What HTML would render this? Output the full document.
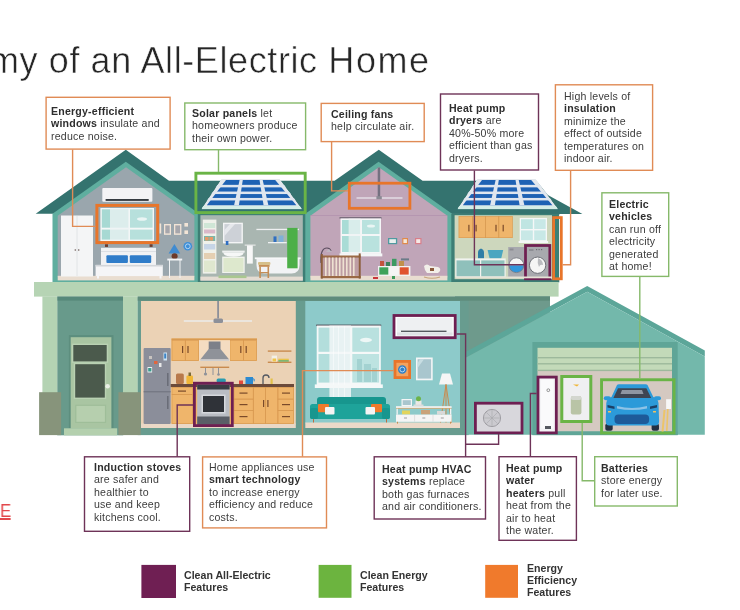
<!DOCTYPE html>
<html><head><meta charset="utf-8">
<style>
*{margin:0;padding:0;box-sizing:border-box}
html,body{width:740px;height:610px;overflow:hidden;background:#fff}
body{position:relative;font-family:"Liberation Sans",sans-serif;color:#333}
.title,.t,.lg,.red{will-change:transform}
svg{position:absolute;left:0;top:0}
.title{position:absolute;left:-11.3px;top:38.5px;font-size:36px;line-height:44px;letter-spacing:0.6px;color:#262626;-webkit-text-stroke:0.55px #fff;white-space:nowrap}
.t{position:absolute;font-size:10.6px;line-height:12.45px;letter-spacing:0.2px;color:#3c3c3c;white-space:nowrap}
.t b{color:#2e2e2e}
.lg{position:absolute;font-size:10.6px;line-height:11.8px;font-weight:bold;color:#333;white-space:nowrap}
.red{position:absolute;left:-0.3px;top:500px;font-size:19px;color:#e2474b;line-height:22px;transform:scaleX(0.88);transform-origin:0 0}
.red:after{content:"";position:absolute;left:-2px;width:14px;top:18.3px;height:1.6px;background:#e2474b}
</style></head><body>
<svg width="740" height="610" viewBox="0 0 740 610">
<g id="house">
<!-- ROOF -->
<polygon points="35.7,213.8 125.8,149.8 169,180.8 334.6,180.8 378.8,149.8 422.6,180.8 536.4,180.8 547.8,195 582.4,213.9" fill="#34736f"/>
<!-- left gable body -->
<polygon points="52.5,282 52.5,213.8 125.8,161.8 199.2,213.8 199.2,282" fill="#5fae9f"/>
<polygon points="57.7,277 57.7,215.7 126,167.2 194.4,215.7 194.4,277" fill="#9aa6ad"/>
<rect x="57.7" y="275.8" width="136.7" height="4.6" fill="#e9ddd0"/>
<!-- bathroom -->
<rect x="197.8" y="213.8" width="108.4" height="69" fill="#3d7e75"/>
<rect x="200.4" y="215.2" width="102.4" height="66" fill="#a9b6b1"/>
<rect x="200.4" y="276.6" width="102.4" height="3.8" fill="#e4dcd2"/>
<!-- nursery body -->
<polygon points="305.3,282 305.3,213.8 378.6,161.8 452,213.8 452,282" fill="#5fae9f"/>
<polygon points="310.4,277.4 310.4,215.7 378.8,167.2 447.4,215.7 447.4,277.4" fill="#c0a5b8"/>
<rect x="310.4" y="275.8" width="137" height="4.6" fill="#e9ddd0"/>
<!-- laundry -->
<rect x="451.3" y="213.9" width="108" height="68.5" fill="#3d7e75"/>
<rect x="454.6" y="215.2" width="97.4" height="64" fill="#cdd7bd"/>
<!-- solar panels -->
<!-- floor band -->
<rect x="34" y="282" width="524.6" height="14.6" fill="#b6d4b4"/>
<!-- garage behind-wall -->
<rect x="455" y="296.4" width="95" height="71" fill="#6e9a8c"/>
<!-- lower floor entry -->
<rect x="57.2" y="297" width="66" height="138.3" fill="#689a8b"/>
<rect x="57.2" y="296.4" width="65.8" height="4.2" fill="#56887a"/>
<rect x="42.4" y="296.4" width="14.8" height="96.6" fill="#b4d3b3"/>
<rect x="123" y="296.4" width="14.8" height="96.6" fill="#b4d3b3"/>
<rect x="68.9" y="335.1" width="44.6" height="93.5" fill="#5d8e7e"/>
<rect x="70.7" y="337.2" width="40.7" height="91.4" fill="#a9c5a2"/>
<rect x="71.8" y="343.6" width="36.4" height="19.2" fill="#b9d1b2"/>
<rect x="73.3" y="345" width="33.4" height="16.4" fill="#4b5a4c"/>
<rect x="73.8" y="362.8" width="32.4" height="36.2" fill="#b9d1b2"/>
<rect x="75.2" y="364.2" width="29.6" height="33.4" fill="#4b5a4c"/>
<rect x="75.2" y="404.7" width="30.9" height="18.3" fill="#9fbe99"/>
<rect x="76.4" y="405.9" width="28.5" height="15.9" fill="#b6cfae"/>
<circle cx="107.6" cy="386.3" r="2.3" fill="#e9efe5"/>
<rect x="64" y="428.3" width="53.2" height="7.1" fill="#b4d0ae"/>
<!-- kitchen + living frame -->
<rect x="137.7" y="297.3" width="331" height="137.8" fill="#689c8f"/>
<rect x="137.7" y="296.4" width="412.3" height="4.3" fill="#5e8c7b"/>
<rect x="141" y="301" width="154.8" height="123.5" fill="#ebd2b5"/>
<rect x="141" y="423.5" width="154.8" height="4.5" fill="#ead8c6"/>
<rect x="305.3" y="301" width="154.7" height="122.5" fill="#8dcaca"/>
<rect x="305.3" y="422.5" width="154.7" height="5.5" fill="#ecd9c8"/>
<rect x="39.1" y="392.2" width="22" height="42.9" fill="#87947b"/>
<rect x="118.4" y="392.2" width="22.3" height="42.9" fill="#87947b"/>
<!-- garage -->
<polygon points="466,351.7 587.2,285.9 704.8,350.6 704.8,356.5 587.2,291.8 466,357.6" fill="#5ca699"/>
<polygon points="466,434.7 466,357.6 587.2,291.8 704.8,356.5 704.8,434.7" fill="#73b8ab"/>
<rect x="532.4" y="342" width="145.3" height="93.1" fill="#5fa597"/>
<rect x="537.5" y="347.8" width="134.5" height="23.2" fill="#c3dab9"/>
<rect x="537.5" y="371" width="134.5" height="60.5" fill="#d5c9c1"/>

<clipPath id="pc1"><polygon points="221.4,179 279.7,179 302.2,209.3 201.2,209.3"/></clipPath>
<clipPath id="pc2"><polygon points="477.4,179 535.7,179 558.2,209.3 457.2,209.3"/></clipPath>
<g clip-path="url(#pc1)"><polygon points="221.4,179 279.7,179 302.2,209.3 201.2,209.3" fill="#e4e8ed"/><rect x="202" y="205.8" width="99.4" height="3.5" fill="#d5ede7"/><polygon points="226,180 275.2,180 296.4,205.2 206.8,205.2" fill="#1e62b4"/><rect x="195" y="184.85" width="110" height="2.5" fill="#dfe6ef"/><rect x="195" y="191.55" width="110" height="2.5" fill="#dfe6ef"/><rect x="195" y="197.95" width="110" height="2.5" fill="#dfe6ef"/><polygon points="239.6,180 242.8,180 238.9,205.2 234.1,205.2" fill="#dfe6ef"/><polygon points="259.5,180 262.7,180 268.4,205.2 263.6,205.2" fill="#dfe6ef"/></g>
<g clip-path="url(#pc2)"><polygon points="477.4,179 535.7,179 558.2,209.3 457.2,209.3" fill="#e4e8ed"/><rect x="458" y="205.8" width="99.4" height="3.5" fill="#d5ede7"/><polygon points="482,180 531.2,180 552.4,205.2 462.8,205.2" fill="#1e62b4"/><rect x="451" y="184.85" width="110" height="2.5" fill="#dfe6ef"/><rect x="451" y="191.55" width="110" height="2.5" fill="#dfe6ef"/><rect x="451" y="197.95" width="110" height="2.5" fill="#dfe6ef"/><polygon points="495.6,180 498.8,180 494.9,205.2 490.1,205.2" fill="#dfe6ef"/><polygon points="515.5,180 518.7,180 524.4,205.2 519.6,205.2" fill="#dfe6ef"/></g>

<!-- bedroom details -->
<rect x="61" y="215.5" width="32" height="61" fill="#f4f5f6"/>
<line x1="77" y1="216" x2="77" y2="276" stroke="#dde0e3" stroke-width="0.8"/>
<circle cx="75.3" cy="250" r="0.8" fill="#6b5a55"/><circle cx="78.7" cy="250" r="0.8" fill="#6b5a55"/>
<rect x="102.3" y="188" width="50.1" height="13.7" rx="1" fill="#f3f3f5"/>
<rect x="105.6" y="199" width="43.1" height="1.9" fill="#353a40"/>
<rect x="100.4" y="208" width="53.6" height="33" fill="#f4f7f7"/>
<rect x="101.8" y="209.3" width="26.5" height="18.4" fill="#a7d9d3"/>
<rect x="130" y="209.3" width="22.6" height="18.4" fill="#b7e0dc"/>
<rect x="101.8" y="229.6" width="26.5" height="10" fill="#a7d9d3"/>
<rect x="130" y="229.6" width="22.6" height="10" fill="#b7e0dc"/>
<rect x="110" y="208.5" width="19.4" height="32" fill="#eef3f4" opacity="0.75"/>
<ellipse cx="142" cy="219" rx="5" ry="1.8" fill="#eaf5f4"/>
<rect x="96.9" y="205.4" width="60.8" height="37.2" fill="none" stroke="#e8752a" stroke-width="3"/>
<rect x="105" y="244.3" width="3" height="2.6" fill="#6e3b2c"/><rect x="149.6" y="244.3" width="3" height="2.6" fill="#6e3b2c"/>
<rect x="101" y="247.8" width="55" height="17.2" fill="#f1f2f4"/>
<rect x="101" y="251" width="55" height="1" fill="#dcdfe3"/>
<rect x="106.4" y="255.2" width="21.5" height="7.8" rx="1" fill="#2f7cc9"/>
<rect x="129.8" y="255.2" width="21.4" height="7.8" rx="1" fill="#2f7cc9"/>
<rect x="95.6" y="264.9" width="67.2" height="11.2" fill="#f5f5f7"/>
<rect x="95.6" y="264.9" width="67.2" height="1.6" fill="#d3d6da"/>
<rect x="97" y="276" width="2" height="2.5" fill="#f5f5f7"/><rect x="159.5" y="276" width="2" height="2.5" fill="#f5f5f7"/>
<rect x="164" y="224" width="7" height="10.8" fill="#f2e4d6"/><rect x="165.3" y="225.4" width="4.4" height="8" fill="#a6a6ac"/>
<rect x="174" y="224" width="7.4" height="10.8" fill="#f2e4d6"/><rect x="175.3" y="225.4" width="4.8" height="8" fill="#a6a6ac"/>
<rect x="184.4" y="223" width="3.6" height="3.6" fill="#f2e4d6"/><rect x="184.4" y="230.4" width="3.6" height="3.6" fill="#f2e4d6"/>
<rect x="159.6" y="223.5" width="1.6" height="10" fill="#f2e4d6"/>
<circle cx="187.8" cy="246.3" r="4.3" fill="#3d8fd8"/><circle cx="187.8" cy="246.3" r="2.4" fill="none" stroke="#cfe4f6" stroke-width="0.8"/>
<polygon points="174.4,244 180.2,253.4 168.6,253.4" fill="#3f8bd1"/>
<circle cx="174.6" cy="256.2" r="3" fill="#6c3a2b"/>
<rect x="167.3" y="258.6" width="14.9" height="1.9" fill="#f2f3f5"/>
<rect x="169" y="260" width="1" height="18" fill="#f2f3f5"/><rect x="179.5" y="260" width="1" height="18" fill="#f2f3f5"/>

<!-- bathroom details -->
<rect x="202.8" y="219.6" width="13.6" height="54" fill="#eff1ea"/>
<rect x="204" y="223" width="11.2" height="5" fill="#cfe6d6"/>
<rect x="204" y="229.5" width="11.2" height="4" fill="#d9b9c9"/>
<rect x="204" y="236" width="11.2" height="5" fill="#7fb5a6"/>
<rect x="205" y="237" width="3.5" height="3.5" fill="#e79a68"/><rect x="209.5" y="237" width="3.5" height="3.5" fill="#e79a68"/>
<rect x="204" y="244" width="11.2" height="5.5" fill="#c6d5e6"/>
<rect x="204" y="253" width="11.2" height="6" fill="#e4cfb2"/>
<rect x="204" y="260.5" width="11.2" height="11.5" fill="#dfe7cf"/>
<rect x="223" y="222.7" width="19.9" height="20.7" fill="#f3f4f5"/>
<rect x="224.4" y="224.1" width="17.1" height="17.9" fill="#cdd1d7"/>
<polygon points="230,224.1 235,224.1 224.4,236 224.4,230" fill="#e6e8ec"/>
<rect x="225.8" y="241" width="2.6" height="4" fill="#2f6fc2"/>
<rect x="222.2" y="250.6" width="22.5" height="2" fill="#eef0f0"/>
<path d="M223,252.5 h21 q-1,4.2 -10.5,4.2 q-9.5,0 -10.5,-4.2z" fill="#f6f7f7"/>
<rect x="222.2" y="256.6" width="22.5" height="16.4" fill="#f1f3ee"/>
<rect x="223.4" y="258" width="20.1" height="14" fill="#dde8cd"/>
<rect x="244.7" y="244.6" width="10.9" height="1" fill="#f0f0f0"/>
<rect x="247" y="245.4" width="5.8" height="18.2" fill="#f7f7f7"/>
<rect x="256.4" y="228.8" width="42.6" height="1.3" fill="#eef0f1"/>
<rect x="268" y="242" width="18.7" height="1.3" fill="#eef0f1"/>
<rect x="273.5" y="236.4" width="3" height="5.6" fill="#2f6fc2"/>
<rect x="278.5" y="235.5" width="5" height="6.5" fill="#7fb0d8"/>
<rect x="254.8" y="257.4" width="45.9" height="1.8" fill="#f7f8f9"/>
<path d="M256.5,259 h43 v6 q0,8.5 -8,8.5 h-27 q-8,0 -8,-8.5z" fill="#f2f3f5"/>
<rect x="287.2" y="227.9" width="10.4" height="40.4" fill="#4caf48"/>
<rect x="258" y="262" width="12.4" height="3" rx="1" fill="#d6bf8a"/>
<rect x="258.8" y="265" width="10.8" height="1.8" fill="#c48d55"/>
<rect x="259.3" y="266.5" width="1.6" height="11.5" fill="#c48d55"/><rect x="267.5" y="266.5" width="1.6" height="11.5" fill="#c48d55"/>
<rect x="259.3" y="272" width="9.5" height="1.2" fill="#c48d55"/>
<rect x="218.5" y="275.5" width="28" height="2.6" fill="#a9c78f"/>
<!-- solar green box -->
<rect x="195.9" y="173.2" width="109.3" height="39.4" fill="none" stroke="#6ab446" stroke-width="2.9"/>
<!-- nursery details -->
<rect x="310.4" y="215" width="137" height="0.6" fill="#ae8cab"/>
<rect x="339.5" y="217.2" width="42" height="1.4" fill="#6a6270"/>
<rect x="340.5" y="218.4" width="40.5" height="35.5" fill="#f4f6f7"/>
<rect x="342" y="220" width="18" height="14" fill="#a9dcd6"/>
<rect x="362" y="220" width="17.5" height="14" fill="#b9e2de"/>
<rect x="342" y="236" width="18" height="16" fill="#a9dcd6"/>
<rect x="362" y="236" width="17.5" height="16" fill="#b9e2de"/>
<rect x="348.6" y="218.6" width="12" height="35" fill="#eef3f4" opacity="0.7"/>
<ellipse cx="371" cy="226" rx="4" ry="1.5" fill="#eaf5f4"/>
<rect x="339.5" y="253.4" width="42.8" height="3" fill="#f4f6f7"/>
<path d="M321,263 q-1,-15 6,-15 q3,0 4,3" fill="none" stroke="#5d4e60" stroke-width="1.2"/>
<path d="M326,252 l3,-3 l3,3z" fill="#bfb7c2"/>
<rect x="320.8" y="255.5" width="39.9" height="2.2" fill="#9b6a45"/>
<rect x="320.8" y="276" width="39.9" height="2.2" fill="#9b6a45"/>
<rect x="320.8" y="254" width="2" height="24.6" fill="#8c5e3c"/><rect x="358.7" y="253.4" width="2" height="25.2" fill="#8c5e3c"/>
<rect x="322.8" y="257.7" width="36" height="18.3" fill="#b9917f" opacity="0.35"/>
<g fill="#efe2d2">
<rect x="325" y="257.5" width="1.6" height="18.5"/><rect x="328.5" y="257.5" width="1.6" height="18.5"/><rect x="332" y="257.5" width="1.6" height="18.5"/><rect x="335.5" y="257.5" width="1.6" height="18.5"/><rect x="339" y="257.5" width="1.6" height="18.5"/><rect x="342.5" y="257.5" width="1.6" height="18.5"/><rect x="346" y="257.5" width="1.6" height="18.5"/><rect x="349.5" y="257.5" width="1.6" height="18.5"/><rect x="353" y="257.5" width="1.6" height="18.5"/></g>
<rect x="388" y="238" width="9.2" height="6.2" fill="#4f9aa0"/><rect x="389.3" y="239.2" width="6.6" height="3.8" fill="#e9f1ee"/>
<rect x="402.3" y="238" width="5.7" height="6.2" fill="#e08a4a"/><rect x="403.4" y="239.2" width="3.5" height="3.8" fill="#f6e9d8"/>
<rect x="415" y="238" width="6.5" height="6.2" fill="#d87f8a"/><rect x="416.2" y="239.2" width="4.1" height="3.8" fill="#f6e9e6"/>
<rect x="378" y="266" width="32.4" height="10" fill="#f2f2f2"/>
<rect x="379.3" y="267.3" width="9" height="7.3" fill="#3fa35a"/>
<rect x="389.5" y="267.3" width="9" height="7.3" fill="#f5f5f5"/>
<rect x="399.7" y="267.3" width="9" height="7.3" fill="#e0532f"/>
<rect x="380" y="261" width="4" height="5" fill="#c3523d"/><rect x="386" y="262" width="4" height="4" fill="#3c7f5a"/>
<rect x="392" y="258.8" width="4.5" height="7.2" fill="#3c9a63"/><rect x="399" y="261" width="5" height="5" fill="#c1904b"/>
<rect x="401" y="258.4" width="8" height="2" fill="#6b7b88"/>
<rect x="373" y="277" width="5" height="2" fill="#c9353a"/><rect x="392" y="276" width="3" height="3" fill="#3e9a5b"/>
<path d="M424,266 q3,-3 6,0 l8,1 q3,1 2,4 l-2,2 h-11 l-2,-3z" fill="#f2efe9"/>
<rect x="430" y="268" width="4" height="3" fill="#8b5a3c"/>
<path d="M424,277 q8,2.5 16,0" fill="none" stroke="#c7a57a" stroke-width="1.2"/>
<!-- ceiling fan -->
<rect x="377.7" y="167.5" width="2.5" height="29.5" fill="#757080"/>
<rect x="356.5" y="197.4" width="46" height="1.2" fill="#ece9ee"/>
<rect x="376.4" y="196.2" width="5.4" height="3" fill="#8b8993"/>
<rect x="349.3" y="183.2" width="60.6" height="25.1" fill="none" stroke="#e8752a" stroke-width="2.8"/>
<!-- laundry details -->
<rect x="458.7" y="216.2" width="53.9" height="21.8" fill="#efb56b"/>
<g stroke="#d79a52" stroke-width="0.6" fill="none"><rect x="459" y="216.5" width="13.4" height="21.2"/><rect x="472.4" y="216.5" width="13.2" height="21.2"/><rect x="485.6" y="216.5" width="13.2" height="21.2"/><rect x="498.8" y="216.5" width="13.5" height="21.2"/></g>
<g fill="#7a4a2a"><rect x="468.3" y="224.8" width="1.2" height="6.6"/><rect x="475.5" y="224.8" width="1.2" height="6.6"/><rect x="495.4" y="224.8" width="1.2" height="6.6"/><rect x="502.6" y="224.8" width="1.2" height="6.6"/></g>
<rect x="519.7" y="217.9" width="27.3" height="23.6" fill="#f5f7f7"/>
<rect x="521" y="219.2" width="11.8" height="9.8" fill="#bfe5e2"/><rect x="534.2" y="219.2" width="11.5" height="9.8" fill="#c8e8e6"/>
<rect x="521" y="230.4" width="11.8" height="9.8" fill="#c8e8e6"/><rect x="534.2" y="230.4" width="11.5" height="9.8" fill="#c8e8e6"/>
<rect x="518.6" y="241" width="29.5" height="2" fill="#f5f7f7"/>
<path d="M478,258.6 v-6 q0,-3 3,-4 q3,1 3,4 v6z" fill="#2f7ea6"/>
<path d="M487.6,250 h15.6 l-2,8.6 h-11.6z" fill="#4aa6c0"/>
<rect x="455.4" y="258.4" width="50.3" height="19.1" fill="#f1f3ef"/>
<rect x="456.5" y="260.4" width="23.5" height="16" fill="#8fc0bb"/><rect x="481.2" y="260.4" width="23.3" height="16" fill="#8fc0bb"/>
<rect x="508.2" y="247" width="15.8" height="30.5" fill="#a8a9ae"/>
<rect x="509.5" y="248.5" width="4" height="2" fill="#8d8e94"/>
<circle cx="516.4" cy="265.2" r="7.4" fill="#f5f5f5"/>
<path d="M509,265.2 a7.4,7.4 0 0 0 14.8,0z" fill="#3296dc"/>
<circle cx="516.4" cy="265.2" r="7.4" fill="none" stroke="#6f7178" stroke-width="0.8"/>
<rect x="526.7" y="246.7" width="22" height="31" fill="#a8a9ae"/>
<rect x="529" y="249" width="4.5" height="2" fill="#8d8e94"/><rect x="536" y="249" width="1.2" height="1.2" fill="#6d6e74"/><rect x="538.5" y="249" width="1.2" height="1.2" fill="#6d6e74"/><rect x="541" y="249" width="1.2" height="1.2" fill="#6d6e74"/>
<circle cx="537.6" cy="265.2" r="8.2" fill="#f5f5f5" stroke="#6f7178" stroke-width="1"/>
<path d="M538,258 q5,2 5,7 q-3,-1 -4,2 q-2,-4 -1,-9z" fill="#bbbcc0"/>
<rect x="525.5" y="245.5" width="24.3" height="33.3" fill="none" stroke="#6e1f52" stroke-width="2.8"/>
<rect x="456" y="276.5" width="96" height="1.8" fill="#e6e2d6"/>
<rect x="556" y="215" width="3" height="65" fill="#3b8075"/>
<rect x="559" y="215" width="2.5" height="65" fill="#f3f5f4"/>
<rect x="553.6" y="217.6" width="7.7" height="61.2" fill="none" stroke="#e8752a" stroke-width="2.8"/>
<!-- right panel cells & left panel cells added later -->

<!-- kitchen details -->
<rect x="217.2" y="301" width="1.8" height="17.5" fill="#8d9099"/>
<rect x="183.8" y="320.2" width="68.2" height="1.6" fill="#eceae7"/>
<rect x="213.5" y="318.5" width="9.5" height="4.5" rx="1.5" fill="#8d9099"/>
<rect x="171.5" y="338.5" width="85.5" height="22.5" fill="#efb56b"/>
<rect x="171.5" y="338.5" width="85.5" height="1.6" fill="#d99a52"/>
<g stroke="#d99a52" stroke-width="0.7" fill="none"><rect x="172" y="340.2" width="13.3" height="20.4"/><rect x="185.3" y="340.2" width="13.3" height="20.4"/><rect x="230" y="340.2" width="13.4" height="20.4"/><rect x="243.4" y="340.2" width="13.2" height="20.4"/></g>
<g fill="#7a4a2a"><rect x="182" y="346" width="1.2" height="7"/><rect x="187.4" y="346" width="1.2" height="7"/><rect x="240.2" y="346" width="1.2" height="7"/><rect x="245.6" y="346" width="1.2" height="7"/></g>
<rect x="199" y="340.2" width="31" height="20.8" fill="#f4dcc1"/>
<rect x="208.7" y="341.5" width="11.8" height="8" fill="#7d8089"/>
<polygon points="208.7,349 220.5,349 229.2,359.5 200.3,359.5" fill="#8f9299"/>
<rect x="200.3" y="359.3" width="28.9" height="1.6" fill="#c9cbd0"/>
<rect x="200.3" y="366.6" width="28.9" height="1.4" fill="#c98b4f"/>
<g fill="#8f9299"><rect x="205" y="368" width="1" height="5"/><circle cx="205.5" cy="374" r="1.6"/><rect x="212.5" y="368" width="1" height="7"/><rect x="218" y="368" width="1" height="6"/><circle cx="218.5" cy="374.5" r="1.3"/></g>
<rect x="267.8" y="350.4" width="23.6" height="1.4" fill="#c98b4f"/>
<rect x="267.8" y="361.6" width="23.6" height="1.4" fill="#c98b4f"/>
<rect x="271.7" y="355.6" width="5.3" height="6" fill="#f3efe6"/><rect x="272.5" y="358.5" width="3.7" height="3" fill="#f0c44a"/>
<rect x="278.3" y="358.7" width="10.5" height="1.5" fill="#e8c34b"/><rect x="278.3" y="360.2" width="10.5" height="1.4" fill="#67b065"/>
<!-- fridge -->
<rect x="143.6" y="348" width="27.1" height="76" rx="1" fill="#8b8e9a"/>
<rect x="143.6" y="391.3" width="27.1" height="1" fill="#6e717c"/>
<rect x="167.3" y="373" width="1.1" height="13" fill="#5d606a"/><rect x="167.3" y="396" width="1.1" height="13" fill="#5d606a"/>
<rect x="163.5" y="352.5" width="3.5" height="8" fill="#cfe3f1"/><rect x="164.2" y="353.5" width="2" height="5" fill="#3d84c6"/>
<rect x="149" y="356" width="3" height="3" fill="#c9c4c0"/>
<rect x="154" y="361" width="3.5" height="3" fill="#e0663f"/><rect x="159" y="363" width="2.5" height="4" fill="#e8e8e8"/>
<rect x="147.5" y="367" width="4.6" height="5.5" fill="#eef3f6"/><rect x="148.2" y="368" width="3.2" height="3.5" fill="#3a9a8c"/>
<!-- counter -->
<rect x="170.7" y="384" width="123.3" height="3.2" fill="#6b4a3a"/>
<rect x="171.5" y="387.2" width="122.5" height="36.8" fill="#efb56b"/>
<g stroke="#d99a52" stroke-width="0.7" fill="none"><rect x="172" y="387.6" width="20.6" height="7"/><rect x="172" y="394.6" width="20.6" height="29"/>
<rect x="234" y="387.6" width="19.3" height="11.5"/><rect x="234" y="399.1" width="19.3" height="11.5"/><rect x="234" y="410.6" width="19.3" height="13"/>
<rect x="253.3" y="387.6" width="12.3" height="36"/><rect x="265.6" y="387.6" width="12.3" height="36"/>
<rect x="277.9" y="387.6" width="15.6" height="11.5"/><rect x="277.9" y="399.1" width="15.6" height="11.5"/><rect x="277.9" y="410.6" width="15.6" height="13"/></g>
<g fill="#7a4a2a"><rect x="178" y="390.5" width="8" height="1.2"/><rect x="239.5" y="392.5" width="8" height="1.2"/><rect x="239.5" y="404" width="8" height="1.2"/><rect x="239.5" y="416" width="8" height="1.2"/>
<rect x="263" y="400" width="1.2" height="7"/><rect x="267.3" y="400" width="1.2" height="7"/><rect x="282" y="392.5" width="8" height="1.2"/><rect x="282" y="404" width="8" height="1.2"/><rect x="282" y="416" width="8" height="1.2"/></g>
<rect x="176" y="373.4" width="7.8" height="10.6" rx="1.5" fill="#b8794b"/>
<rect x="186.4" y="375.5" width="6.6" height="8.5" rx="1.2" fill="#f0b637"/><rect x="188.5" y="372.5" width="2.5" height="3.5" fill="#7a6a3a"/>
<rect x="216.6" y="378.4" width="9.2" height="4" rx="1.5" fill="#2b9bb0"/>
<rect x="239" y="380.5" width="4" height="3.5" fill="#e34b3b"/>
<path d="M245.5,384 v-7 h7.5 v7z M253,378 q3,1 1,4" fill="#2d8ad0"/>
<path d="M263,384 v-6 q0,-3 3,-3 q3,0 3,3" fill="none" stroke="#555a63" stroke-width="1.3"/>
<rect x="270.5" y="378.5" width="2.2" height="5.5" fill="#e3c14a"/>
<!-- stove -->
<rect x="197.2" y="384.5" width="32.4" height="40.4" fill="#b9bcc3"/>
<rect x="197.2" y="384.5" width="32.4" height="5" fill="#3a3d45"/>
<rect x="201.5" y="394.5" width="24" height="19" fill="#d6d8dd"/>
<rect x="203" y="396" width="21" height="16" fill="#2f3238"/>
<rect x="197.2" y="416.5" width="32.4" height="8.4" fill="#5a5e67"/>
<rect x="194.4" y="383.2" width="37.9" height="42.4" fill="none" stroke="#6e1f52" stroke-width="2.8"/>
<!-- living room -->
<rect x="394" y="315.5" width="61.2" height="22.2" fill="#fff" stroke="#6e1f52" stroke-width="2.8"/>
<rect x="397" y="317.8" width="55.5" height="17.6" rx="1" fill="#eef0f2"/>
<rect x="397" y="332.5" width="55.5" height="2.9" fill="#dfe2e6"/>
<rect x="401" y="330.6" width="45.5" height="1.4" fill="#55585f"/>
<rect x="316.2" y="324.6" width="65" height="1.5" fill="#4a4650"/>
<rect x="316.7" y="325.5" width="64.1" height="59.5" fill="#f5f8f8"/>
<rect x="318.5" y="327.6" width="31.4" height="24.2" fill="#b3dedc"/><rect x="352.3" y="327.6" width="26.8" height="24.2" fill="#b9e1df"/>
<rect x="318.5" y="354" width="31.4" height="28.6" fill="#b3dedc"/><rect x="352.3" y="354" width="26.8" height="28.6" fill="#bde3e1"/>
<ellipse cx="366" cy="340" rx="6" ry="2.2" fill="#eef7f6"/>
<g fill="#a3d2d1"><rect x="357" y="359" width="5" height="23"/><rect x="364" y="364" width="7" height="18"/><rect x="372" y="368" width="5" height="14"/></g>
<rect x="329.4" y="325.5" width="21.6" height="72.5" fill="#f4f7f8" opacity="0.82"/>
<g fill="#ffffff" opacity="0.5"><rect x="333" y="326" width="1" height="72"/><rect x="338" y="326" width="1" height="72"/><rect x="344" y="326" width="1" height="72"/></g>
<rect x="314.8" y="384.4" width="68" height="3.6" fill="#f5f8f8"/>
<rect x="395" y="361.4" width="14.6" height="16.2" fill="#f3a25e"/>
<circle cx="402.3" cy="369.5" r="4.3" fill="#2f7fc8"/><circle cx="402.3" cy="369.5" r="2.4" fill="none" stroke="#d6e8f7" stroke-width="0.8"/>
<rect x="395" y="361.4" width="14.6" height="16.2" fill="none" stroke="#e8752a" stroke-width="2.8"/>
<rect x="416" y="357.5" width="16.7" height="22.8" fill="#f3f5f6"/>
<rect x="417.6" y="359.2" width="13.5" height="19.4" fill="#a9c6ce"/>
<polygon points="420,359.2 424,359.2 417.6,368 417.6,363" fill="#c7dde2"/>
<path d="M439,384.5 l3,-11 h8 l3,11z" fill="#f6f6f6"/>
<g stroke="#c98b4f" stroke-width="1" fill="none"><path d="M446,384.5 l-5.5,38"/><path d="M446,384.5 l5.5,38"/><path d="M446,384.5 v38"/></g>
<rect x="396" y="406.2" width="55.6" height="1.8" fill="#f3f3f3"/>
<rect x="396" y="407.9" width="55.6" height="0.8" fill="#d9a76b"/>
<rect x="396.5" y="408.7" width="1.3" height="6" fill="#f3f3f3"/><rect x="450" y="408.7" width="1.3" height="6" fill="#f3f3f3"/>
<rect x="402" y="410.5" width="8" height="4" fill="#e2d45b"/><rect x="421" y="410" width="9" height="4.5" fill="#c9a27a"/><rect x="437" y="411" width="8" height="3.5" fill="#d9d9d9"/>
<rect x="396" y="414.6" width="55.6" height="7.2" fill="#f5f5f5"/>
<g stroke="#d0d0d0" stroke-width="0.6"><line x1="414.6" y1="414.8" x2="414.6" y2="421.6"/><line x1="433" y1="414.8" x2="433" y2="421.6"/></g>
<g fill="#888"><rect x="404" y="417.6" width="3" height="0.8"/><rect x="422.3" y="417.6" width="3" height="0.8"/><rect x="440.8" y="417.6" width="3" height="0.8"/></g>
<rect x="397" y="421.8" width="1" height="1.8" fill="#c98b4f"/><rect x="450" y="421.8" width="1" height="1.8" fill="#c98b4f"/>
<rect x="401.5" y="399" width="10.5" height="7.2" fill="#f3f5f6"/><rect x="402.7" y="400.2" width="8.1" height="4.8" fill="#a9c6ce"/>
<rect x="415.5" y="400.5" width="6" height="5.7" fill="#eae8e4"/><circle cx="418.5" cy="398.8" r="2.5" fill="#6db34a"/>
<rect x="413.5" y="404.5" width="10" height="1.7" fill="#dcdcdc"/>
<!-- sofa -->
<rect x="317" y="397" width="69" height="13" rx="3" fill="#17968e"/>
<rect x="310" y="404" width="80" height="15" rx="2.5" fill="#1ea39a"/>
<rect x="310" y="408" width="8" height="11" rx="2" fill="#17968e"/><rect x="382" y="408" width="8" height="11" rx="2" fill="#17968e"/>
<rect x="318" y="404" width="11" height="8.3" rx="1" fill="#ef7a2c"/><rect x="371" y="404" width="11" height="8.3" rx="1" fill="#ef7a2c"/>
<rect x="325" y="407" width="9.5" height="7.5" rx="1" fill="#f4f4f4"/><rect x="365.5" y="407" width="9.5" height="7.5" rx="1" fill="#f4f4f4"/>
<rect x="313" y="419" width="1" height="3.5" fill="#c06b3f"/><rect x="386" y="419" width="1" height="3.5" fill="#c06b3f"/>
<!-- entry wall details -->
<!-- garage details -->
<g fill="#9db99c"><rect x="537.5" y="357" width="134.5" height="1.4"/><rect x="537.5" y="363.1" width="134.5" height="1.4"/><rect x="537.5" y="369.7" width="134.5" height="1.4"/></g>
<rect x="532.4" y="431.5" width="145.3" height="3.6" fill="#5fa597"/>
<!-- outdoor HVAC unit -->
<rect x="475.4" y="403.2" width="46.6" height="29.7" fill="#d8d7dc" stroke="#6e1f52" stroke-width="2.8"/>
<circle cx="492" cy="418" r="8.6" fill="#cbcacf" stroke="#9a999e" stroke-width="0.9"/>
<g stroke="#a8a7ac" stroke-width="0.6"><line x1="484" y1="418" x2="500" y2="418"/><line x1="492" y1="410" x2="492" y2="426"/><line x1="486.3" y1="412.3" x2="497.7" y2="423.7"/><line x1="497.7" y1="412.3" x2="486.3" y2="423.7"/></g>
<!-- water heater -->
<rect x="538" y="377.1" width="18.3" height="55.8" fill="#f3f3f5" stroke="#6e1f52" stroke-width="2.8"/>
<rect x="541" y="379.5" width="12.5" height="49" rx="1.5" fill="#fafafb"/>
<circle cx="548.3" cy="390.2" r="1.4" fill="none" stroke="#555" stroke-width="0.6"/>
<rect x="545" y="426" width="6" height="3" fill="#55585f"/>
<!-- battery -->
<rect x="561.8" y="376.5" width="29" height="45" fill="#efeff1" stroke="#6ab446" stroke-width="3"/>
<rect x="570.8" y="396" width="10.6" height="18.5" rx="2" fill="#b9c4a6"/>
<rect x="570.8" y="396" width="10.6" height="4" rx="2" fill="#d3d6cf"/>
<path d="M573,384.5 h6 l-2,2 z" fill="#f0b637"/>
<!-- car -->
<path d="M661.5,432 l2,-22 h2 l-2,22z" fill="#ecc46a"/>
<path d="M666,431 l1,-22 h1.6 l-1,22z" fill="#ecc46a"/>
<rect x="666.1" y="399.2" width="4.9" height="9.8" fill="#f7f7f7"/>
<rect x="605.3" y="423.5" width="7.4" height="7.3" rx="2" fill="#233041"/><rect x="651.6" y="423.5" width="7.4" height="7.3" rx="2" fill="#233041"/>
<path d="M617,385 q0.5,-0.8 2,-0.8 h26.5 q1.5,0 2,0.8 l5.8,12 q4.5,0.8 5.2,6 l0.6,18 q0,4.5 -3.5,4.5 h-46.4 q-3.5,0 -3.5,-4.5 l0.6,-18 q0.7,-5.2 5.2,-6z" fill="#2c9ad9"/>
<path d="M613.4,398 l4.6,-9.8 h28.4 l4.8,9.8z" fill="#3e4552"/>
<path d="M622,390 h20 l1.5,4 h-23z" fill="#8e96a2"/>
<rect x="603.8" y="396.2" width="7" height="4" rx="2" fill="#2c9ad9"/><rect x="654" y="396.2" width="7" height="4" rx="2" fill="#2c9ad9"/>
<path d="M607.5,405 l7,1.5 v2.5 l-7,-1.5z" fill="#1c3f66"/><path d="M657,405 l-7,1.5 v2.5 l7,-1.5z" fill="#1c3f66"/>
<path d="M617,406 q15,4 30,0 v2.5 q-15,3 -30,0z" fill="#8ec3e6"/>
<rect x="614.5" y="414.4" width="34.6" height="9.7" rx="4" fill="#1d5a99"/>
<rect x="608" y="411" width="3" height="1.5" fill="#f0c060"/><rect x="653" y="411" width="3" height="1.5" fill="#f0c060"/>
<rect x="601.55" y="379.75" width="72.5" height="53.3" fill="none" stroke="#6ab446" stroke-width="2.9"/>

<!-- connector lines -->
<g fill="none" stroke-width="1.4">
<path d="M72.6,149.5 V226.4 H95.5" stroke="#e08b55"/>
<path d="M218.5,149.8 V172" stroke="#86b96a"/>
<path d="M331.6,141.8 V190.9 H348" stroke="#e08b55"/>
<path d="M474.4,170.5 V264.7 H524.2" stroke="#6e3358"/>
<path d="M570.6,170.3 V264.7 H562.6" stroke="#e08b55"/>
<path d="M639.8,276.8 V378" stroke="#86b96a"/>
<path d="M193,405 H177.2 V456.8" stroke="#6e3358"/>
<path d="M393.6,370.6 H302.5 V456.8" stroke="#e08b55"/>
<path d="M456.6,334 H465.6 V457" stroke="#6e3358"/>
<path d="M465.6,444.3 H498.6 V434" stroke="#6e3358"/>
<path d="M536.6,393.5 H530.4 V457" stroke="#6e3358"/>
<path d="M582.2,423 V480.8 H595" stroke="#86b96a"/>
</g>

</g>
<g id="callouts" fill="none" stroke-width="1.4">
 <!-- boxes -->
 <rect x="46.1" y="97.3" width="124" height="51.8" fill="#fff" stroke="#e08b55"/>
 <rect x="184.8" y="103" width="120.8" height="46.7" fill="#fff" stroke="#86b96a"/>
 <rect x="321.2" y="103.4" width="103" height="38.2" fill="#fff" stroke="#e08b55"/>
 <rect x="440.5" y="94" width="98" height="76" fill="#fff" stroke="#6e3358"/>
 <rect x="555.4" y="84.8" width="97.2" height="85.5" fill="#fff" stroke="#e08b55"/>
 <rect x="601.9" y="192.8" width="66.8" height="83.6" fill="#fff" stroke="#86b96a"/>
 <rect x="84.5" y="456.8" width="105.2" height="74.5" fill="#fff" stroke="#6e3358"/>
 <rect x="202.6" y="456.9" width="123.9" height="71" fill="#fff" stroke="#e08b55"/>
 <rect x="374.2" y="456.8" width="111.3" height="62.2" fill="#fff" stroke="#6e3358"/>
 <rect x="499" y="456.7" width="77.4" height="83.6" fill="#fff" stroke="#6e3358"/>
 <rect x="594.7" y="456.7" width="82.6" height="49.3" fill="#fff" stroke="#86b96a"/>
</g>
<g id="legend">
 <rect x="141.4" y="564.9" width="34.6" height="33.1" fill="#6f1f53"/>
 <rect x="318.6" y="564.9" width="32.9" height="32.9" fill="#6cb43f"/>
 <rect x="485.2" y="564.9" width="32.8" height="32.9" fill="#f07a2c"/>
</g>
</svg>
<div class="title">my of an All-Electric <span style="letter-spacing:1.6px">Home</span></div>

<div class="t" style="left:51.4px;top:104.8px"><b>Energy-efficient</b><br><b>windows</b> insulate and<br>reduce noise.</div>
<div class="t" style="left:191.5px;top:107.2px"><b>Solar panels</b> let<br>homeowners produce<br>their own power.</div>
<div class="t" style="left:331.4px;top:108.2px"><b>Ceiling fans</b><br>help circulate air.</div>
<div class="t" style="left:449px;top:101.8px"><b>Heat pump</b><br><b>dryers</b> are<br>40%-50% more<br>efficient than gas<br>dryers.</div>
<div class="t" style="left:563.7px;top:89.9px">High levels of<br><b>insulation</b><br>minimize the<br>effect of outside<br>temperatures on<br>indoor air.</div>
<div class="t" style="left:609.2px;top:197.7px"><b>Electric</b><br><b>vehicles</b><br>can run off<br>electricity<br>generated<br>at home!</div>
<div class="t" style="left:93.6px;top:461.3px"><b>Induction stoves</b><br>are safer and<br>healthier to<br>use and keep<br>kitchens cool.</div>
<div class="t" style="left:209.1px;top:461.3px">Home appliances use<br><b>smart technology</b><br>to increase energy<br>efficiency and reduce<br>costs.</div>
<div class="t" style="left:382px;top:462.5px"><b>Heat pump HVAC</b><br><b>systems</b> replace<br>both gas furnaces<br>and air conditioners.</div>
<div class="t" style="left:505.9px;top:461.5px"><b>Heat pump</b><br><b>water</b><br><b>heaters</b> pull<br>heat from the<br>air to heat<br>the water.</div>
<div class="t" style="left:601.2px;top:461.5px"><b>Batteries</b><br>store energy<br>for later use.</div>

<div class="lg" style="left:183.8px;top:570px">Clean All-Electric<br>Features</div>
<div class="lg" style="left:360.4px;top:570.2px">Clean Energy<br>Features</div>
<div class="lg" style="left:526.6px;top:563.3px">Energy<br>Efficiency<br>Features</div>
<div class="red">E</div>
</body></html>
